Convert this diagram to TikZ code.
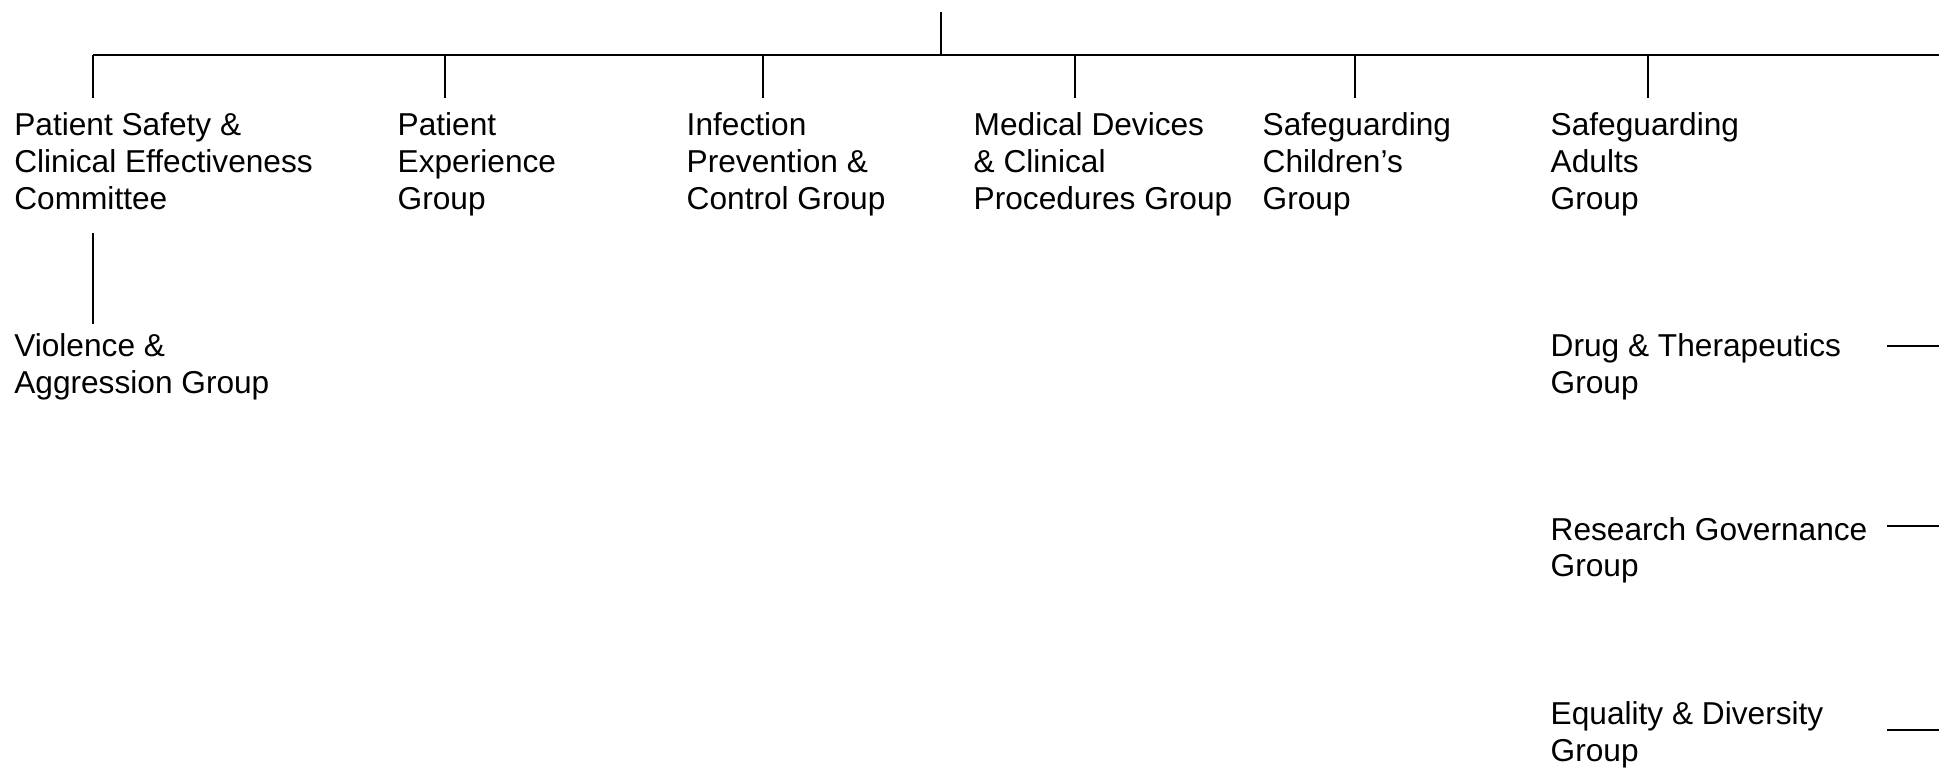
\documentclass[tikz,border=0pt]{standalone}
\usepackage{fontspec}
\setmainfont{Liberation Sans}
\begin{document}
\begin{tikzpicture}[x=0.01cm, y=-0.01cm]
    \tikzset{
        group/.style={anchor=base west, inner sep=0pt, align=left, font=\fontsize{9}{10.45}\selectfont},
        link/.style={line width=0.45pt},
        bar/.style={line width=0.8pt}
    }
    \useasboundingbox (0,0) rectangle (1939,768);
    % groups along the top bar (anchored at the last line)
    \node[group] (psc) at (13.6,209.5) {Patient Safety \&\\Clinical Effectiveness\\Committee};
    \node[group] (pex) at (397,209.5) {Patient\\Experience\\Group};
    \node[group] (ipc) at (686,209.5) {Infection\\Prevention \&\\Control Group};
    \node[group] (mdc) at (973,209.5) {Medical Devices\\\& Clinical\\Procedures Group};
    \node[group] (sgc) at (1262,209.5) {Safeguarding\\Children’s\\Group};
    \node[group] (sga) at (1550,209.5) {Safeguarding\\Adults\\Group};
    \node[group] (vag) at (13.6,393.5) {Violence \&\\Aggression Group};
    % groups on the right
    \node[group] (dtg) at (1550,393.5) {Drug \& Therapeutics\\Group};
    \node[group] (rgg) at (1550,577) {Research Governance\\Group};
    \node[group] (edg) at (1550,761.5) {Equality \& Diversity\\Group};
    % connectors
    \coordinate (head) at (941,12);
    \coordinate (bar west) at (93,55);
    \coordinate (bar east) at (1939,55);
    \draw[bar] (bar west) -- (bar east);
    \draw[link] (head) -- (head |- bar west);
    \foreach \n/\x in {psc/93, pex/445, ipc/763, mdc/1075, sgc/1355, sga/1648} {
        \coordinate (\n-in) at (\x,98);
        \draw[link] (\n-in) -- (\n-in |- bar west);
    }
    \coordinate (psc-out) at (93,233);
    \coordinate (vag-in) at (93,324);
    \draw[link] (psc-out) -- (vag-in);
    \foreach \n/\y in {dtg/346, rgg/526, edg/730} {
        \coordinate (\n-in) at (1887,\y);
        \draw[link] (\n-in) -- (\n-in -| bar east);
    }
\end{tikzpicture}
\end{document}
